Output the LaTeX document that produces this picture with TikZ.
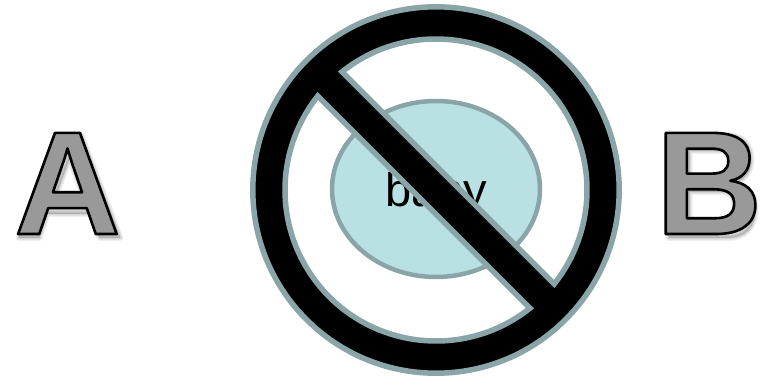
\documentclass[tikz,border=0pt]{standalone}
\usepackage{fontspec}
\setmainfont{Liberation Sans}
\usetikzlibrary{shapes.geometric}
\newfontfamily\wordfont{Liberation Sans Bold}
\definecolor{ringgray}{HTML}{8AA5A8}
\definecolor{babyblue}{HTML}{B9E0E3}
% outlined letter, stroke set straight in the pdf
\newcommand{\wordart}[1]{\special{pdf:code 2 Tr 2.6 w 0 0 0 RG 0.6 g 1 j}#1\special{pdf:code 0 Tr 1 w 0 g 0 G 0 j}}
\newcommand{\shadeA}{(55,246) -- (79,246) -- (118,143) -- (97,143) -- (88,167) -- (45,167) -- (37,143) -- (16,143) -- cycle
	(67,222) -- (81,184) -- (53,184) -- cycle}
\newcommand{\shadeB}{(666,246) -- (725,246) .. controls (742,246) and (749,235) .. (749,221) .. controls (749,210) and (743,202) .. (733,198) .. controls (746,194) and (753,184) .. (753,171) .. controls (753,153) and (742,143) .. (725,143) -- (666,143) -- cycle
	(687,230) -- (718,230) .. controls (726,230) and (730,225) .. (730,218) .. controls (730,211) and (726,206) .. (718,206) -- (687,206) -- cycle
	(687,189) -- (720,189) .. controls (728,189) and (732,182) .. (732,175) .. controls (732,168) and (728,161) .. (720,161) -- (687,161) -- cycle}
\begin{document}
\begin{tikzpicture}[
		x=1pt, y=1pt,
		letter/.style={inner sep=0pt, font=\wordfont\fontsize{147}{147}\selectfont},
		shade/.style={fill=black, draw=black, opacity=0.06, even odd rule, line join=round},
		babybox/.style={ellipse, draw=ringgray, fill=babyblue, line width=4.5pt, inner sep=0pt, minimum width=208pt, minimum height=176pt, text height=36pt, text depth=0pt, font=\fontsize{47}{47}\selectfont},
		ring/.style={fill=black, draw=ringgray, line width=5.5pt, even odd rule, line join=miter}
	]
		\useasboundingbox (0,0) rectangle (769,378);
		\coordinate (c) at (436,188);
		\node[babybox] (baby) at (436,189) {baby};
		\path[ring] (c) circle (183.2)
			(c) ++(128.5:151) arc (128.5:-38.5:151) -- cycle
			(c) ++(308.5:151) arc (308.5:141.5:151) -- cycle;
		% soft shadows behind the letters
		\foreach \w in {6,4,2}{
			\path[shade, line width=\w pt, xshift=2.5pt, yshift=-3pt] \shadeA;
			\path[shade, line width=\w pt, xshift=2.5pt, yshift=-3pt] \shadeB;
		}
		\node[letter, anchor=base] (a) at (67.5,144) {\wordart{A}};
		\node[letter, anchor=base] (b) at (709,144) {\wordart{B}};
	\end{tikzpicture}
\end{document}
